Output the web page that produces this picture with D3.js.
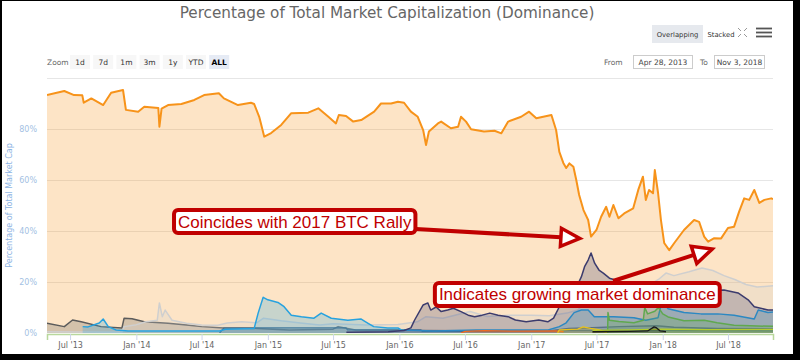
<!DOCTYPE html>
<html><head><meta charset="utf-8">
<script src="https://cdn.jsdelivr.net/npm/d3@7"></script>
<style>body{margin:0;background:#000;} svg{display:block}</style>
</head><body><svg id="c" width="800" height="360"></svg>
<script>
// ---------------- DATA ----------------
const startDate = "2013-04-28", endDate = "2018-11-03";
const btcDates = ["2013-04-28","2013-06-15","2013-07-12","2013-08-04","2013-08-08","2013-08-29","2013-10-01","2013-10-23","2013-11-25","2013-12-03","2014-01-06","2014-01-23","2014-03-03","2014-03-06","2014-03-12","2014-03-30","2014-05-06","2014-06-11","2014-07-08","2014-08-18","2014-09-01","2014-10-10","2014-11-15","2014-11-24","2014-12-08","2014-12-22","2015-01-10","2015-02-07","2015-03-07","2015-04-23","2015-05-21","2015-06-18","2015-07-09","2015-07-17","2015-08-06","2015-08-26","2015-09-17","2015-10-23","2015-11-11","2015-12-09","2015-12-28","2016-01-14","2016-02-02","2016-02-21","2016-03-07","2016-03-15","2016-03-23","2016-04-17","2016-04-26","2016-05-23","2016-06-12","2016-06-20","2016-07-04","2016-07-18","2016-08-23","2016-09-21","2016-10-10","2016-10-29","2016-12-04","2016-12-26","2017-01-15","2017-02-26","2017-03-11","2017-03-20","2017-03-31","2017-04-08","2017-04-17","2017-04-28","2017-05-06","2017-05-14","2017-05-26","2017-06-08","2017-06-16","2017-07-01","2017-07-14","2017-07-28","2017-08-06","2017-08-17","2017-08-31","2017-09-16","2017-10-11","2017-10-25","2017-11-07","2017-11-15","2017-11-24","2017-12-05","2017-12-10","2017-12-19","2017-12-27","2018-01-05","2018-01-19","2018-02-02","2018-03-01","2018-03-29","2018-04-12","2018-04-26","2018-05-07","2018-05-24","2018-06-12","2018-07-01","2018-07-18","2018-08-01","2018-08-15","2018-08-29","2018-09-12","2018-09-26","2018-10-10","2018-10-29","2018-11-03"];
const btcValues = [93.3,94.9,93.3,93.2,90.3,92.0,89.4,94.2,95.3,87.5,86.8,88.7,88.2,80.9,88.0,89.4,89.8,91.4,93.3,94.0,92.0,89.4,90.3,89.8,84.8,77.0,78.4,81.6,86.2,86.4,88.1,84.8,82.2,85.5,85.1,82.9,83.5,86.8,90.0,90.0,90.7,90.3,86.8,84.8,79.6,73.7,79.0,82.2,82.9,80.3,80.9,84.8,82.9,79.9,79.0,79.3,78.3,82.9,84.8,86.8,84.2,85.5,79.6,71.0,66.7,64.7,66.5,65.2,60.0,54.1,48.2,44.3,37.8,40.4,45.6,49.5,45.6,50.2,45.0,46.9,48.9,56.1,61.3,52.2,56.1,54.8,63.9,54.9,44.3,35.3,32.5,35.3,40.4,44.3,43.6,37.8,35.8,37.2,37.1,41.2,41.7,47.6,52.8,52.2,56.1,51.0,52.2,52.8,52.5];

const ltcDates = ["2013-04-28","2013-06-15","2013-07-08","2013-08-01","2013-09-25","2013-11-22","2013-11-28","2013-12-20","2014-01-23","2014-03-30","2014-05-20","2014-07-01","2014-09-01","2014-12-01","2015-03-01","2015-07-01","2015-07-15","2015-09-01","2016-03-01","2016-12-01","2017-03-01","2017-04-15","2017-06-01","2017-09-01","2017-12-15","2018-02-01","2018-06-01","2018-11-03"];
const ltcValues = [3.8,2.5,5.1,4.4,2.5,2.0,5.8,5.6,4.4,3.8,3.1,2.5,2.0,1.8,1.2,1.5,2.5,1.2,1.0,0.8,1.0,1.8,2.0,2.5,2.8,2.3,1.8,1.6];

const othersDates = ["2013-04-28","2013-11-22","2013-11-28","2013-12-28","2014-01-28","2014-02-28","2014-03-06","2014-03-14","2014-03-22","2014-04-10","2014-05-20","2014-07-01","2014-08-15","2014-09-10","2014-10-20","2014-12-01","2014-12-20","2015-02-07","2015-04-01","2015-05-25","2015-07-01","2015-10-01","2015-12-28","2016-02-20","2016-03-15","2016-05-01","2016-07-15","2016-09-01","2016-11-01","2017-01-01","2017-02-20","2017-04-10","2017-05-10","2017-06-01","2017-07-01","2017-08-15","2017-10-01","2017-11-15","2017-12-20","2018-01-10","2018-02-01","2018-03-15","2018-04-20","2018-05-20","2018-06-20","2018-07-20","2018-08-20","2018-09-20","2018-11-03"];
const othersValues = [0.5,0.3,2.5,3.1,4.4,5.0,11.8,6.4,9.0,5.0,3.8,3.1,3.0,3.9,4.4,4.0,5.8,4.8,3.9,3.1,3.6,3.1,3.3,4.4,6.4,5.8,8.4,6.5,7.0,7.0,6.8,7.8,9.0,12.0,14.0,15.0,16.0,18.0,21.0,23.5,22.5,24.0,25.5,24.5,22.5,21.0,19.0,18.0,18.5];

const xrpDates = ["2013-08-05","2013-08-20","2013-09-20","2013-10-01","2013-10-15","2013-11-06","2013-12-09","2014-06-01","2014-08-20","2014-09-05","2014-11-24","2014-12-05","2014-12-19","2015-01-01","2015-01-29","2015-02-15","2015-03-07","2015-04-04","2015-05-09","2015-05-29","2015-06-26","2015-08-11","2015-09-16","2015-10-05","2015-10-22","2015-11-30","2015-12-28","2016-01-06","2016-04-06","2016-08-01","2017-02-17","2017-03-20","2017-04-08","2017-04-30","2017-05-20","2017-06-08","2017-06-25","2017-08-18","2017-10-13","2017-11-15","2017-12-19","2017-12-30","2018-01-16","2018-03-01","2018-04-17","2018-06-03","2018-07-18","2018-09-12","2018-09-23","2018-10-20","2018-11-03"];
const xrpValues = [2.5,2.4,3.9,5.5,2.5,1.2,0.8,0.8,0.8,1.5,1.8,7.8,14.0,13.0,12.0,10.3,7.0,6.4,5.8,7.8,5.8,5.0,5.5,3.9,2.5,2.0,2.0,1.2,0.8,1.2,1.2,2.5,4.0,8.0,9.0,9.0,6.4,6.4,6.0,5.0,6.0,12.5,9.5,8.0,7.5,7.5,7.0,5.5,9.0,8.0,8.2];

const dashDates = ["2014-08-20","2014-09-01","2015-08-06","2015-08-10","2016-03-01","2016-03-05","2017-03-01","2017-05-01","2018-11-03"];
const dashValues = [0,2.0,2.0,1.2,1.2,0.6,0.6,1.0,0.8];

const ethDates = ["2015-08-07","2015-12-01","2016-01-14","2016-02-02","2016-02-12","2016-03-07","2016-03-20","2016-03-28","2016-04-12","2016-04-26","2016-05-14","2016-05-30","2016-06-20","2016-07-10","2016-07-28","2016-08-18","2016-09-08","2016-10-01","2016-10-29","2016-11-18","2016-12-18","2017-01-22","2017-02-16","2017-03-04","2017-03-20","2017-03-31","2017-04-20","2017-05-10","2017-05-20","2017-05-29","2017-06-08","2017-06-16","2017-06-26","2017-07-08","2017-07-20","2017-08-06","2017-09-10","2017-10-15","2017-11-15","2017-12-15","2018-01-15","2018-02-15","2018-03-20","2018-04-20","2018-06-20","2018-07-29","2018-08-26","2018-09-12","2018-10-20","2018-11-03"];
const ethValues = [0.3,0.5,1.0,2.0,5.0,11.0,11.8,9.0,10.2,8.4,9.0,9.7,8.4,7.0,6.4,7.0,7.8,7.0,6.4,5.1,4.4,5.1,4.4,5.8,10.3,13.0,16.0,19.0,22.0,26.0,28.6,31.4,27.4,24.7,23.5,21.5,20.0,17.0,13.0,12.5,18.0,19.0,17.0,16.5,16.9,15.7,13.0,10.3,9.0,9.0];

const xmrDates = ["2016-06-20","2016-07-01","2016-08-23","2016-12-01","2017-03-10","2017-04-01"];
const xmrValues = [0,0.6,0.9,0.7,0.8,0.5];

const yelDates = ["2017-03-15","2017-03-20","2017-05-10","2017-05-25","2017-06-15","2017-07-10","2017-08-01"];
const yelValues = [0,1.2,1.5,2.4,1.8,1.2,0];

const bchDates = ["2017-08-01","2017-08-02","2017-08-06","2017-09-01","2017-10-13","2017-11-08","2017-11-12","2017-11-20","2017-12-10","2017-12-20","2018-01-01","2018-01-16","2018-03-01","2018-04-26","2018-06-01","2018-07-18","2018-09-01","2018-11-03"];
const bchValues = [0,8.0,5.0,4.5,4.0,5.0,10.0,7.5,8.5,10.0,7.5,6.3,4.8,5.0,4.0,3.0,2.8,2.6];

const blkDates = ["2017-06-20","2017-10-01","2017-11-20","2017-12-08","2017-12-15","2017-12-25","2018-01-10"];
const blkValues = [0.5,0.6,0.8,2.4,2.0,0.8,0.5];

const ygDates = ["2017-06-20","2017-10-01","2018-01-01","2018-05-01","2018-11-03"];
const ygValues = [1.0,1.2,1.5,1.3,1.4];

const xTickDates = ["2013-07-01","2014-01-01","2014-07-01","2015-01-01","2015-07-01","2016-01-01","2016-07-01","2017-01-01","2017-07-01","2018-01-01","2018-07-01"];
const xTickLabels = ["Jul '13","Jan '14","Jul '14","Jan '15","Jul '15","Jan '16","Jul '16","Jan '17","Jul '17","Jan '18","Jul '18"];
const yTickValues = [0,20,40,60,80];
const yTickLabels = ["0%","20%","40%","60%","80%"];
const zoomButtons = ["1d","7d","1m","3m","1y","YTD","ALL"];

// ---------------- CHART ----------------
const parse = d3.utcParse("%Y-%m-%d");
const svg = d3.select("#c");
svg.append("rect").attr("width",800).attr("height",360).attr("fill","#000");
svg.append("rect").attr("x",2).attr("y",1).attr("width",791).attr("height",353).attr("fill","#fff");

const L=47,R=773,T=78,B=333;
const x = d3.scaleUtc().domain([parse(startDate),parse(endDate)]).range([L,R]);
const y = d3.scaleLinear().domain([0,100]).range([B,T]);
const font = "'DejaVu Sans', Verdana, sans-serif";

// title
const title = svg.append("text").attr("x",387).attr("y",18).attr("text-anchor","middle")
  .attr("fill","#666").style("font-family",font).style("font-size","16px")
  .text("Percentage of Total Market Capitalization (Dominance)");
{ const w = title.node().getComputedTextLength(); title.style("font-size",(16*415/w)+"px"); }

// gridlines
svg.append("g").selectAll("line").data([20,40,60,80,100]).join("line")
  .attr("x1",L).attr("x2",R).attr("y1",d=>Math.round(y(d))+0.5).attr("y2",d=>Math.round(y(d))+0.5)
  .attr("stroke","#e6e6e6");

// series
const series = [
  {dates:btcDates, values:btcValues, color:"#f7931a", width:2},
  {dates:ltcDates, values:ltcValues, color:"#5b5b5b", width:1.5},
  {dates:othersDates, values:othersValues, color:"#cfcfcf", width:1.5},
  {dates:dashDates, values:dashValues, color:"#4e6f86", width:1.2},
  {dates:xrpDates, values:xrpValues, color:"#27a2df", width:1.5},
  {dates:ethDates, values:ethValues, color:"#3b3b6d", width:1.5},
  {dates:xmrDates, values:xmrValues, color:"#f26a1f", width:1.3},
  {dates:yelDates, values:yelValues, color:"#e8c21a", width:1.3},
  {dates:bchDates, values:bchValues, color:"#5fa84f", width:1.5},
  {dates:ygDates, values:ygValues, color:"#b3cc2c", width:1.3},
  {dates:blkDates, values:blkValues, color:"#1a1a1a", width:1.3}
];
svg.append("clipPath").attr("id","plot").append("rect").attr("x",L).attr("y",T-2).attr("width",R-L).attr("height",B-T+2);
const gS = svg.append("g").attr("clip-path","url(#plot)");
const area = d3.area().x(d=>x(d.date)).y0(y(0)).y1(d=>y(d.v));
const line = d3.line().x(d=>x(d.date)).y(d=>y(d.v));
series.forEach(s=>{
  const pts = s.dates.map((d,i)=>({date:parse(d), v:s.values[i]}));
  gS.append("path").attr("d",area(pts)).attr("fill",s.color).attr("fill-opacity",0.25);
  gS.append("path").attr("d",line(pts)).attr("fill","none").attr("stroke",s.color)
    .attr("stroke-width",s.width).attr("stroke-linejoin","round");
});

// x axis
const xAxis = svg.append("g").attr("transform",`translate(0,${B+1})`)
  .call(d3.axisBottom(x).tickValues(xTickDates.map(parse)).tickFormat((d,i)=>xTickLabels[i]).tickSize(6).tickPadding(2));
xAxis.select(".domain").attr("stroke","#b9d89c").attr("stroke-width",1.5);
xAxis.selectAll(".tick line").attr("stroke","#ccd6eb");
xAxis.selectAll(".tick text").attr("fill","#666").style("font-family",font).style("font-size","8px");

// y axis
const yAxis = svg.append("g").attr("transform",`translate(${L},0)`)
  .call(d3.axisLeft(y).tickValues(yTickValues).tickFormat((d,i)=>yTickLabels[i]).tickSize(0).tickPadding(10));
yAxis.select(".domain").remove();
yAxis.selectAll(".tick text").attr("fill","#a3bfe3").style("font-family",font).style("font-size","8px");
svg.append("text").attr("transform",`translate(12,${(T+B)/2}) rotate(-90)`).attr("text-anchor","middle")
  .attr("fill","#8db4e4").style("font-family",font).style("font-size","8px").text("Percentage of Total Market Cap");

// toolbar
const tb = svg.append("g").style("font-family",font).style("font-size","7.5px");
tb.append("text").attr("x",47).attr("y",65).attr("fill","#666").text("Zoom");
zoomButtons.forEach((b,i)=>{
  const bx = 70 + i*23.2;
  const sel = b==="ALL";
  tb.append("rect").attr("x",bx).attr("y",55).attr("width",20).attr("height",14).attr("fill",sel?"#e6ebf5":"#f7f7f7");
  tb.append("text").attr("x",bx+10).attr("y",65).attr("text-anchor","middle").attr("fill",sel?"#000":"#333")
    .style("font-weight",sel?"bold":"normal").text(b);
});
tb.append("rect").attr("x",652).attr("y",25).attr("width",51).attr("height",18).attr("fill","#e6e9ee");
tb.append("text").attr("x",677.5).attr("y",37).attr("text-anchor","middle").attr("fill","#333").style("font-size","6.8px").text("Overlapping");
tb.append("text").attr("x",721).attr("y",37).attr("text-anchor","middle").attr("fill","#333").style("font-size","6.8px").text("Stacked");
// fullscreen icon
const fi = tb.append("g").attr("stroke","#999").attr("stroke-width",1).attr("fill","none");
[[738,28,1,1],[747,28,-1,1],[738,37,1,-1],[747,37,-1,-1]].forEach(([cx,cy,dx,dy])=>{
  fi.append("path").attr("d",`M${cx+dx*3},${cy+dy*3} L${cx},${cy}`);
});
[28.5,32.5,36.5].forEach(yy=>tb.append("line").attr("x1",756).attr("x2",772).attr("y1",yy).attr("y2",yy).attr("stroke","#555").attr("stroke-width",1.8));
tb.append("text").attr("x",604).attr("y",65).attr("fill","#666").text("From");
tb.append("rect").attr("x",633.5).attr("y",55.5).attr("width",59).attr("height",13).attr("fill","#fff").attr("stroke","#ccc");
tb.append("text").attr("x",663).attr("y",65).attr("text-anchor","middle").attr("fill","#444").text("Apr 28, 2013");
tb.append("text").attr("x",700).attr("y",65).attr("fill","#666").text("To");
tb.append("rect").attr("x",714.5).attr("y",55.5).attr("width",50).attr("height",13).attr("fill","#fff").attr("stroke","#ccc");
tb.append("text").attr("x",739.5).attr("y",65).attr("text-anchor","middle").attr("fill","#444").text("Nov 3, 2018");

// annotations
const annotations = [
  {text:"Coincides with 2017 BTC Rally", boxDate:"2014-04-10", boxValue:49.0, tailDate:"2016-02-16", tailValue:40.8, tipDate:"2017-05-16", tipValue:37.1},
  {text:"Indicates growing market dominance", boxDate:"2016-04-03", boxValue:20.4, tailDate:"2017-08-16", tailValue:20.4, tipDate:"2018-05-18", tipValue:32.9}
];
const red = "#c00000";
const ga = svg.append("g");
annotations.forEach(a=>{
  const tx = x(parse(a.tailDate)), ty = y(a.tailValue);
  const px = x(parse(a.tipDate)), py = y(a.tipValue);
  const dx = px-tx, dy = py-ty, len = Math.hypot(dx,dy), ux = dx/len, uy = dy/len;
  const hl = 19, hw = 9;
  const bx = px-ux*hl, by = py-uy*hl;
  ga.append("line").attr("x1",tx).attr("y1",ty).attr("x2",bx).attr("y2",by).attr("stroke",red).attr("stroke-width",4);
  ga.append("path").attr("d",`M${px},${py} L${bx-uy*hw},${by+ux*hw} L${bx+uy*hw},${by-ux*hw} Z`)
    .attr("fill","#fff").attr("stroke",red).attr("stroke-width",3.5).attr("stroke-linejoin","miter");
  const ox = x(parse(a.boxDate)), oy = y(a.boxValue);
  const g = ga.append("g");
  const rect = g.append("rect");
  const t = g.append("text").attr("fill",red).style("font-family","'Liberation Sans', Arial, sans-serif").style("font-size","17px").text(a.text);
  const w = t.node().getComputedTextLength();
  rect.attr("x",ox+2).attr("y",oy+2).attr("width",w+8).attr("height",23).attr("rx",4)
    .attr("fill","#fff").attr("stroke",red).attr("stroke-width",4);
  t.attr("x",ox+6).attr("y",oy+19.5);
});
</script>
</body></html>
